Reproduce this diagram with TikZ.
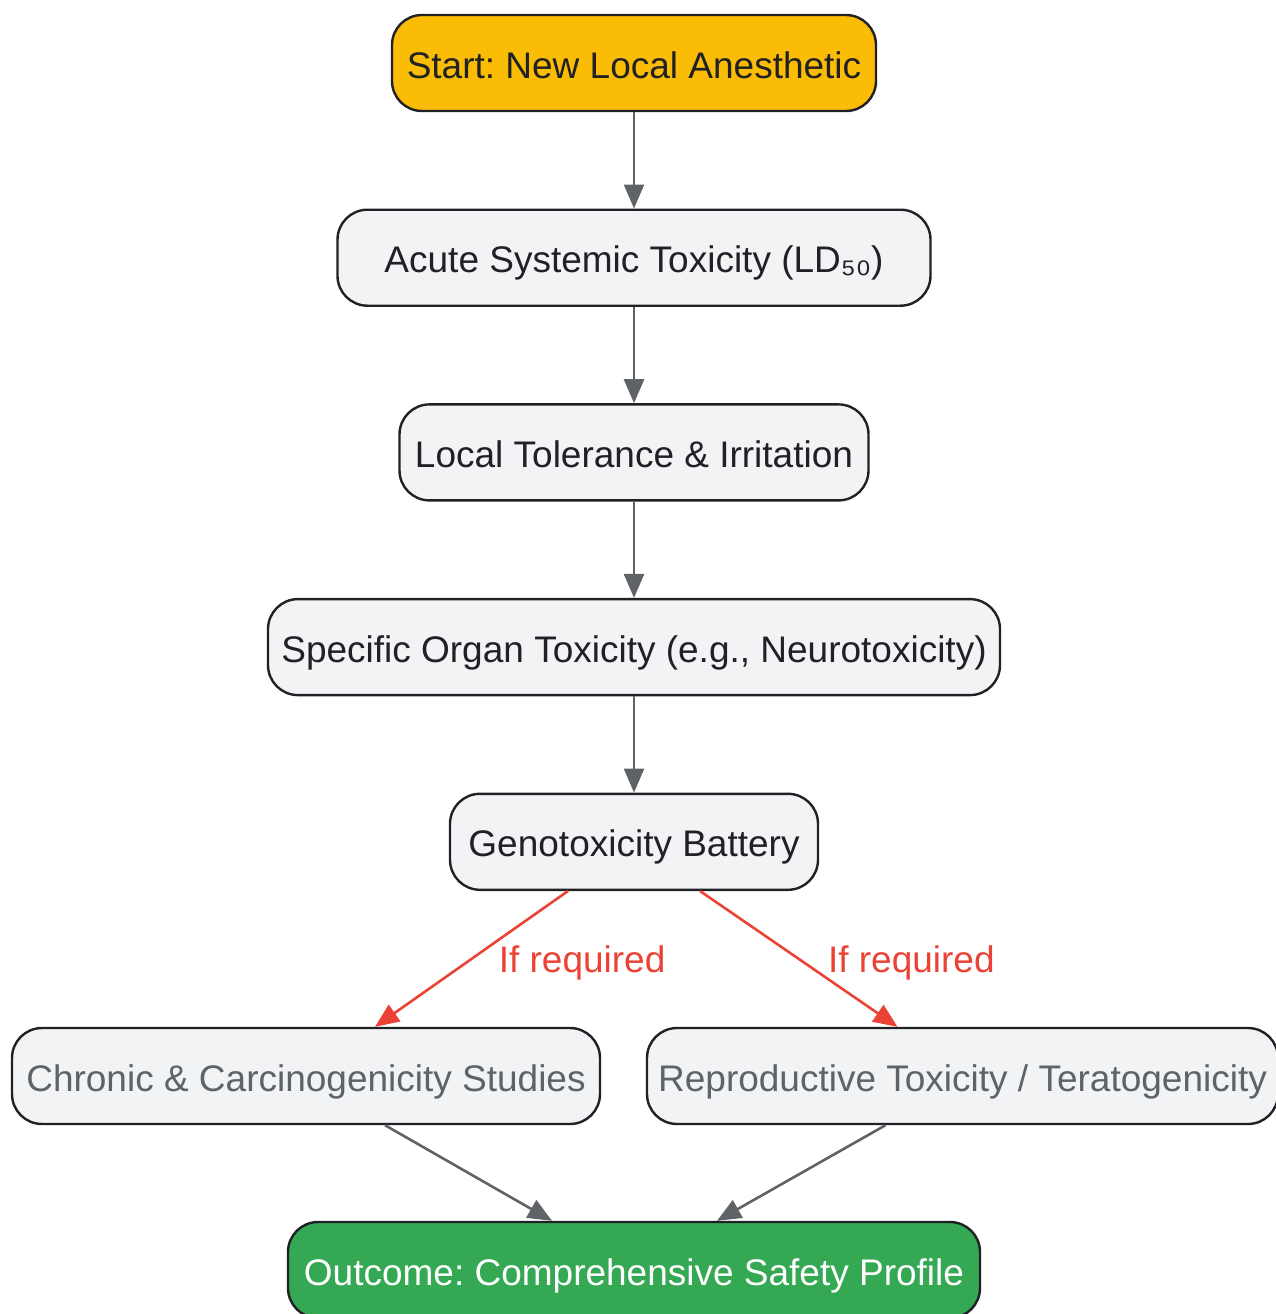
\documentclass[tikz,border=0pt]{standalone}
\usepackage{fontspec}
\setmainfont{Liberation Sans}
\usetikzlibrary{arrows.meta,positioning,calc}
\definecolor{ink}{HTML}{202124}
\definecolor{boxfill}{HTML}{F1F3F4}
\definecolor{edgegray}{HTML}{5F6368}
\definecolor{startyellow}{HTML}{FBBC05}
\definecolor{optred}{HTML}{EA4335}
\definecolor{endgreen}{HTML}{34A853}
\frenchspacing

\begin{document}
\begin{tikzpicture}[x=1pt, y=1pt,
      every node/.append style={font=\fontsize{37}{44}\selectfont},
      box/.style={draw=ink, line width=2.4pt, fill=boxfill, text=ink,
        rounded corners=30pt, minimum height=96pt, inner sep=0pt,
        text height=30pt, text depth=0pt},
      optbox/.style={box, text=edgegray},
      flow/.style={draw=edgegray, line width=2.6pt,
        -{Triangle[length=24pt,width=20pt]}},
      optflow/.style={flow, draw=optred,
        -{Triangle[length=24pt,width=20pt]}}]
    \useasboundingbox (0,0) rectangle (1276,-1314);
    \node (start) [box, fill=startyellow, minimum width=484pt] at (634,-63)
      {Start: New Local Anesthetic};
    \node (acute) [box, minimum width=593pt, below=96.3pt of start]
      {Acute Systemic Toxicity (LD₅₀)};
    \node (local) [box, minimum width=469pt, below=96.3pt of acute]
      {Local Tolerance \& Irritation};
    \node (organ) [box, minimum width=732pt, below=96.3pt of local]
      {Specific Organ Toxicity (e.g., Neurotoxicity)};
    \node (geno) [box, minimum width=368pt, below=96.3pt of organ]
      {Genotoxicity Battery};
    \node (chronic) [optbox, minimum width=588pt] at (306,-1076)
      {Chronic \& Carcinogenicity Studies};
    \node (repro) [optbox, minimum width=631pt] at (962.5,-1076)
      {Reproductive Toxicity / Teratogenicity};
    \node (outcome) [box, fill=endgreen, text=white, minimum width=692pt] at (634,-1270)
      {Outcome: Comprehensive Safety Profile};

    \draw[flow] (start) -- (acute);
    \draw[flow] (acute) -- (local);
    \draw[flow] (local) -- (organ);
    \draw[flow] (organ) -- (geno);
    \draw[optflow] ([xshift=-66pt]geno.south) -- ([xshift=69pt]chronic.north)
      node (optleft) [midway, anchor=west, xshift=26pt, yshift=-4pt, inner sep=0pt, text=optred] {If required};
    \draw[optflow] ([xshift=66pt]geno.south) -- ([xshift=-65pt]repro.north)
      node (optright) [midway, anchor=west, xshift=28pt, yshift=-4pt, inner sep=0pt, text=optred] {If required};
    \draw[flow] ([xshift=79pt]chronic.south) -- ([xshift=-82pt]outcome.north);
    \draw[flow] ([xshift=-77pt]repro.south) -- ([xshift=83pt]outcome.north);
\end{tikzpicture}
\end{document}
